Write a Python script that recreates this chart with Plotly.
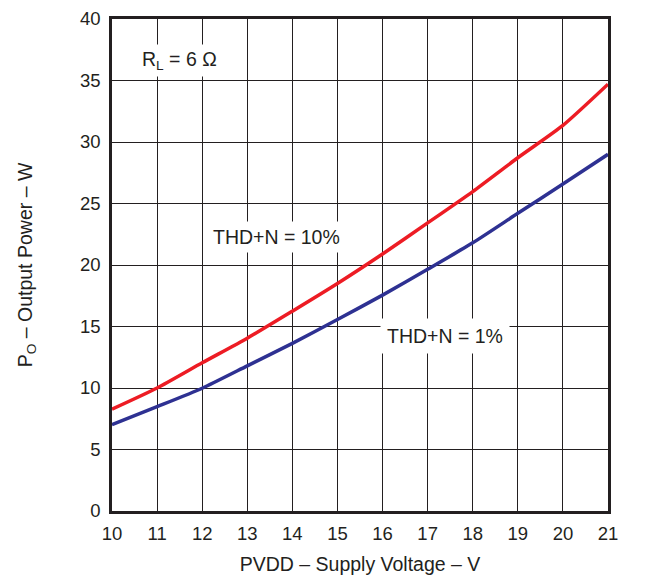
import plotly.graph_objects as go

voltage = [10, 11, 12, 13, 14, 15, 16, 17, 18, 19, 20, 21]
power_thd10 = [8.28, 10.0, 12.05, 14.05, 16.25, 18.5, 20.9, 23.42, 25.97, 28.72, 31.35, 34.7]
power_thd1 = [7.02, 8.48, 9.98, 11.8, 13.63, 15.57, 17.55, 19.65, 21.8, 24.2, 26.58, 29.0]

x_ticks = list(range(10, 22))
y_ticks = list(range(0, 45, 5))

FONT = "Liberation Sans, Arial, sans-serif"
INK = "#231F20"

fig = go.Figure()
fig.add_trace(go.Scatter(x=voltage, y=power_thd10, mode="lines",
                         line=dict(color="#ED1C24", width=3.5, shape="spline", smoothing=0.6),
                         name="THD+N = 10%"))
fig.add_trace(go.Scatter(x=voltage, y=power_thd1, mode="lines",
                         line=dict(color="#2E3192", width=3.5, shape="spline", smoothing=0.6),
                         name="THD+N = 1%"))

fig.update_layout(
    width=652, height=569,
    margin=dict(l=104, r=52, t=11, b=66, autoexpand=False),
    paper_bgcolor="white", plot_bgcolor="white",
    showlegend=False,
    font=dict(family=FONT, size=18, color=INK),
    xaxis=dict(range=[10, 21], tickvals=x_ticks, ticks="", showgrid=True, gridcolor=INK, gridwidth=1.3,
               showline=True, linecolor=INK, linewidth=2.5, mirror=True, zeroline=False,
               automargin=False, ticklabelstandoff=4,
               title=dict(text="PVDD – Supply Voltage – V", font=dict(size=19.5), standoff=15),
               tickfont=dict(size=18.5)),
    yaxis=dict(range=[0, 40], tickvals=y_ticks, ticks="", showgrid=True, gridcolor=INK, gridwidth=1.3,
               showline=True, linecolor=INK, linewidth=2.5, mirror=True, zeroline=False,
               automargin=False, ticklabelstandoff=5, ticklabeloverflow="allow",
               title=dict(text="P<sub>O</sub> – Output Power – W", font=dict(size=19.5), standoff=43),
               tickfont=dict(size=18.5)),
)

fig.add_annotation(x=11.5, y=36.6, text="R<sub>L</sub> = 6 Ω", showarrow=False, bgcolor="white",
                   font=dict(size=19.5), borderpad=3)
fig.add_annotation(x=13.64, y=22.3, text="THD+N = 10%", showarrow=False, bgcolor="white",
                   font=dict(size=19.5), borderpad=4)
fig.add_annotation(x=17.38, y=14.25, text="THD+N = 1%", showarrow=False, bgcolor="white",
                   font=dict(size=19.5), borderpad=6)

fig.write_html("out.html")
